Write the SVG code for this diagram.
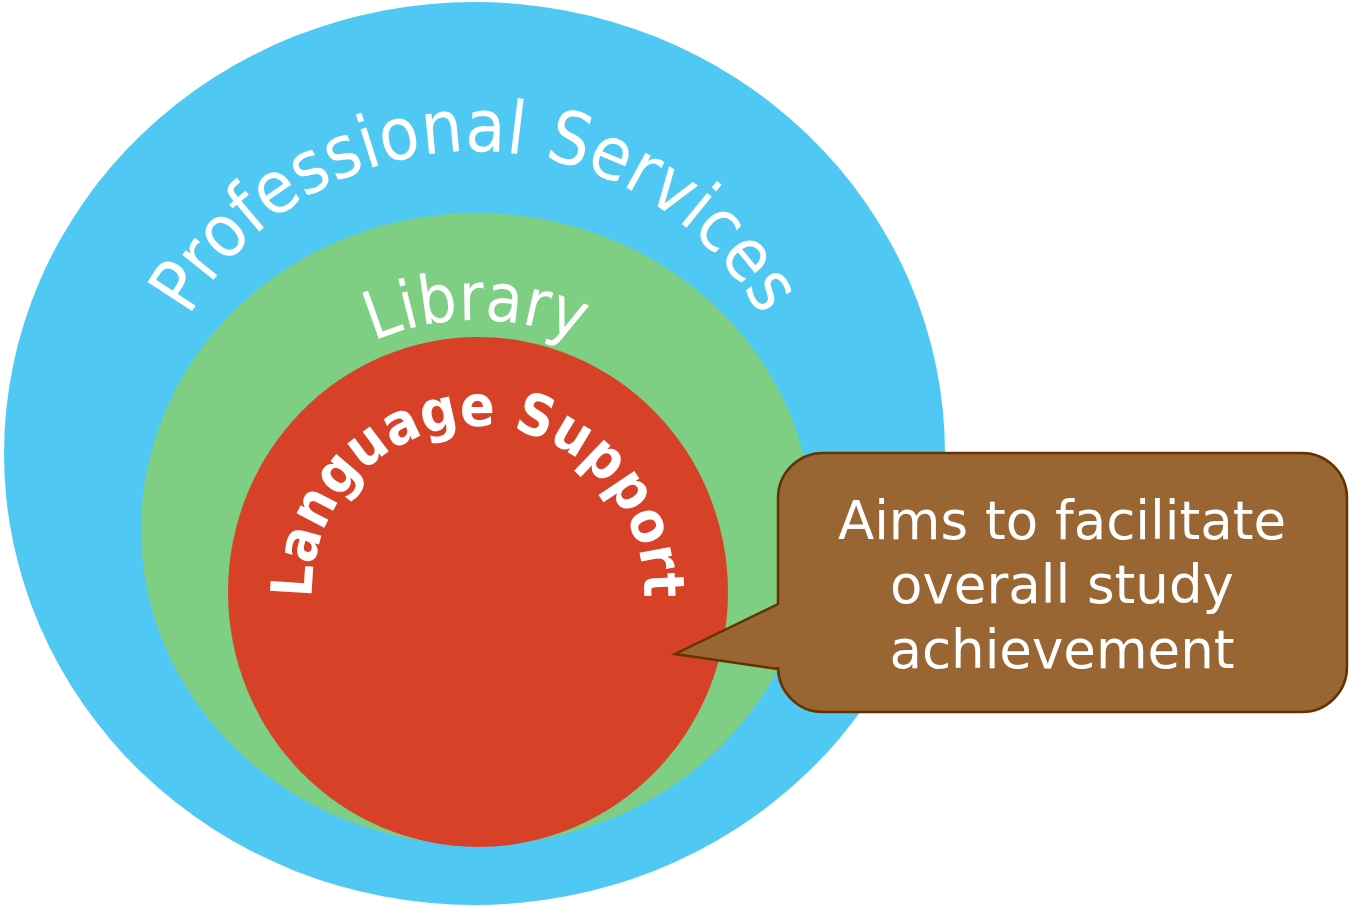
<svg xmlns="http://www.w3.org/2000/svg" xmlns:xlink="http://www.w3.org/1999/xlink" width="1349" height="909" viewBox="0 0 1349 909">
  <style>
    .ring-label { fill: #ffffff; font-family: "DejaVu Sans Condensed", "DejaVu Sans", Verdana, sans-serif; font-stretch: condensed; }
    .callout-text { fill: #ffffff; font-family: "DejaVu Sans", Verdana, sans-serif; font-size: 53px; text-anchor: middle; }
  </style>
  <defs>
    <!-- baselines for the curved ring labels -->
    <path id="arc-outer" d="M 145,481 A 330,330 0 0 1 805,481"/>
    <path id="arc-middle" d="M 218,578 A 258,258 0 0 1 734,578"/>
    <path id="arc-inner" d="M 322,648.8 A 166,166 0 1 1 634,648.8"/>
  </defs>

  <g id="professional-services">
    <ellipse cx="474.5" cy="453.5" rx="470.5" ry="451.5" fill="#4FC8F3"/>
    <text class="ring-label" font-size="73"><textPath xlink:href="#arc-outer" href="#arc-outer" startOffset="50%" text-anchor="middle">Professional Services</textPath></text>
  </g>

  <g id="library">
    <ellipse cx="477" cy="529" rx="336" ry="316" fill="#7ECE84"/>
    <text class="ring-label" font-size="67"><textPath xlink:href="#arc-middle" href="#arc-middle" startOffset="50%" text-anchor="middle">Library</textPath></text>
  </g>

  <g id="language-support">
    <ellipse cx="478" cy="592" rx="250" ry="255" fill="#D64128"/>
    <text class="ring-label" font-size="57" font-weight="bold"><textPath xlink:href="#arc-inner" href="#arc-inner" startOffset="50%" text-anchor="middle">Language Support</textPath></text>
  </g>

  <g id="callout">
    <path d="M 823,453 H 1302 A 45,45 0 0 1 1347,498 V 667 A 45,45 0 0 1 1302,712 H 823 A 45,45 0 0 1 778,667 V 669 L 675,654 L 778,604 V 498 A 45,45 0 0 1 823,453 Z" fill="#996633" stroke="#663300" stroke-width="2.5" stroke-linejoin="miter"/>
    <text class="callout-text" x="1062" y="539">Aims to facilitate</text>
    <text class="callout-text" x="1062" y="603">overall study</text>
    <text class="callout-text" x="1062" y="668">achievement</text>
  </g>

  <g id="connectors"></g>
</svg>
